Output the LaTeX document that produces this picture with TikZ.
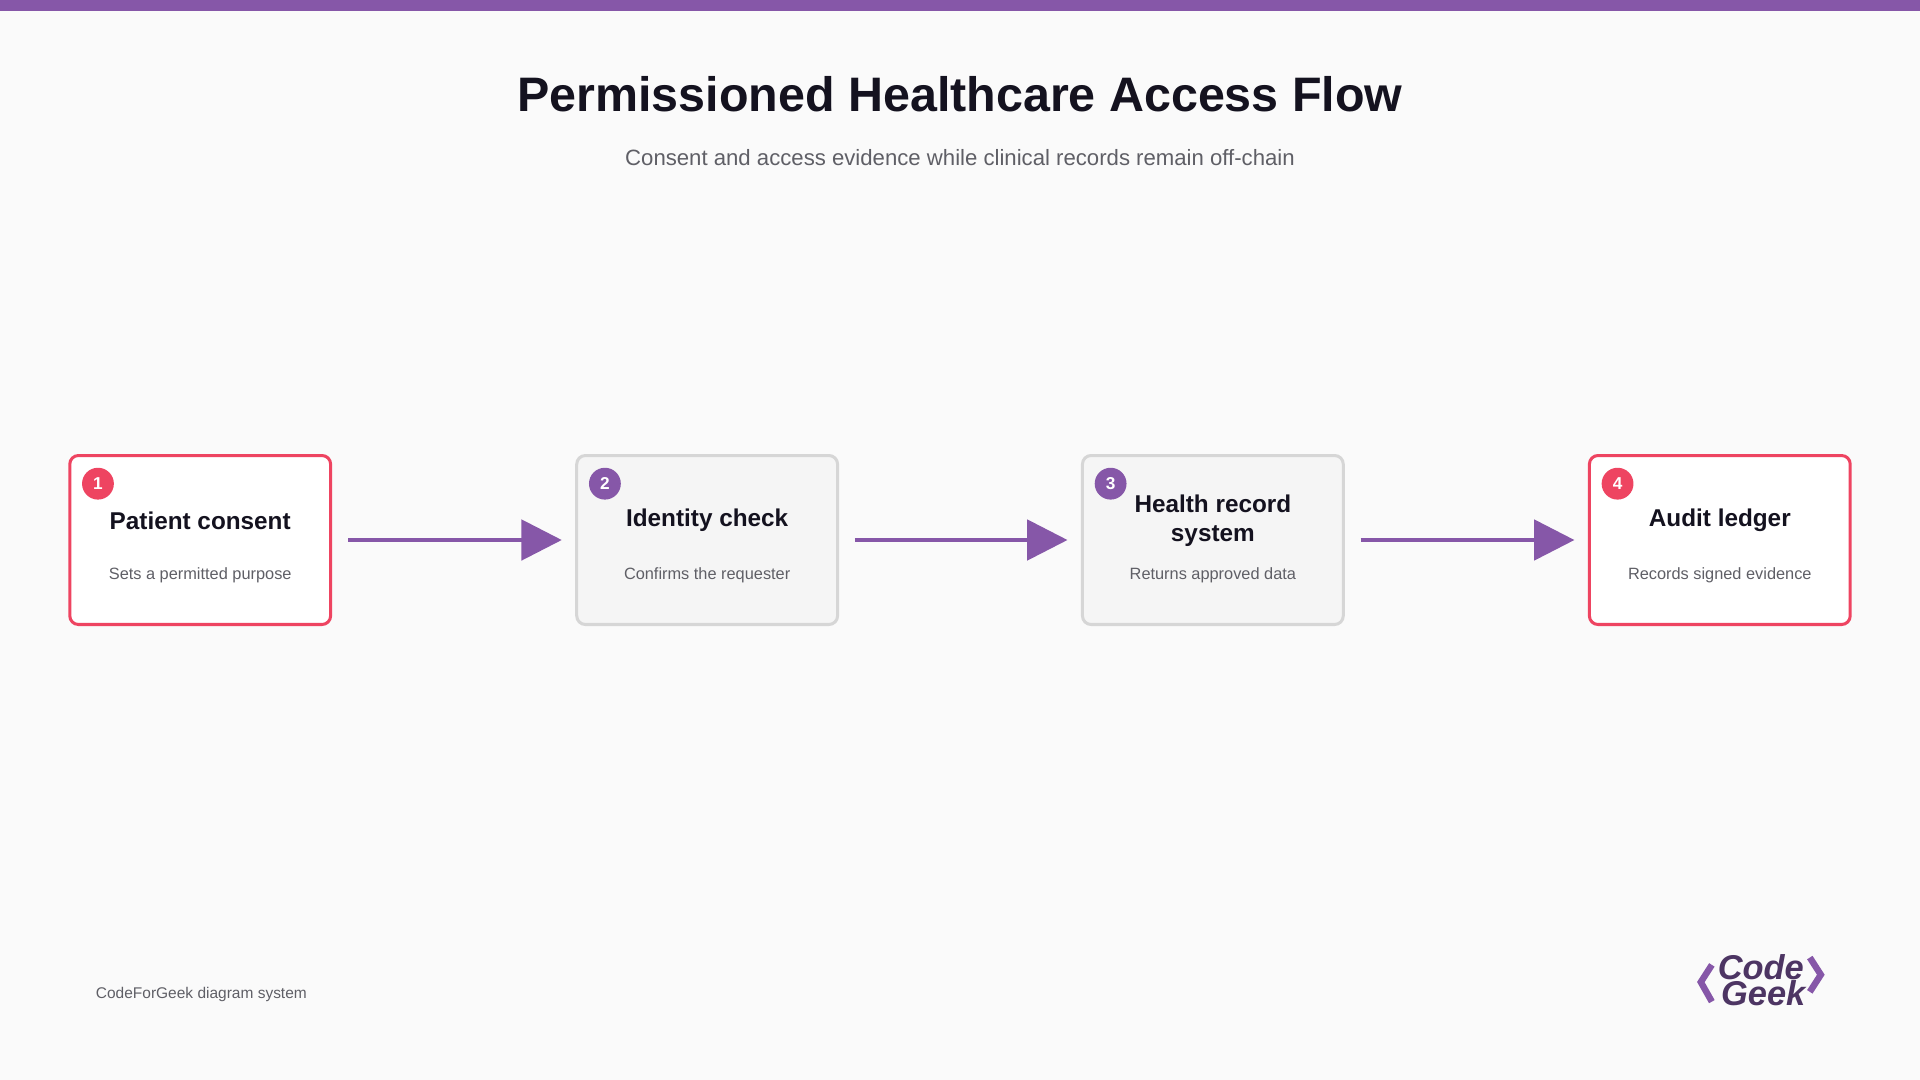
\documentclass[tikz,border=0pt]{standalone}
\usepackage{fontspec}
\setmainfont{Liberation Sans}
\usetikzlibrary{arrows.meta}
\definecolor{pur}{HTML}{8657A8}
\definecolor{red1}{HTML}{EE4461}
\definecolor{ink}{HTML}{14121F}
\definecolor{gry}{HTML}{5F5F66}
\begin{document}
\begin{tikzpicture}[x=0.02cm,y=-0.02cm,
 box/.style={draw=red1,fill=white,line width=1.4pt,rounded corners=4pt,minimum width=213*0.02cm,minimum height=138*0.02cm},
 gbox/.style={box,draw=black!16,fill=black!4},
 num/.style={circle,minimum size=26*0.02cm,inner sep=0,text=white,font=\bfseries\fontsize{8}{9}\selectfont},
 ttl/.style={font=\bfseries\fontsize{11.3}{13.5}\selectfont,text=ink,align=center},
 sub/.style={font=\fontsize{7.6}{9}\selectfont,text=gry},
 lgo/.style={font=\bfseries\itshape\fontsize{16}{13}\selectfont,text=pur!50!ink,inner sep=0},
 arr/.style={draw=pur,line width=1.8pt,-{Triangle[length=33*0.02cm,width=33*0.02cm]}}]
\fill[black!2] (0,0) rectangle (1568,882);
\fill[pur] (0,0) rectangle (1568,9);
\node[font=\bfseries\fontsize{22.5}{28}\selectfont,text=ink] (t) at (784,77) {Permissioned Healthcare Access Flow};
\node[font=\fontsize{10.3}{12}\selectfont,text=gry] (s) at (784,129) {Consent and access evidence while clinical records remain off-chain};
\node[box] (b1) at (163.5,441) {};
\node[gbox] (b2) at (577.5,441) {};
\node[gbox] (b3) at (990.5,441) {};
\node[box] (b4) at (1404.5,441) {};
\node[num,fill=red1] (n1) at (80,395) {1};
\node[num,fill=pur] (n2) at (494,395) {2};
\node[num,fill=pur] (n3) at (907,395) {3};
\node[num,fill=red1] (n4) at (1321,395) {4};
\node[ttl] (t1) at (163.5,425) {Patient consent};
\node[ttl] (t2) at (577.5,425) {Identity check};
\node[ttl] (t3) at (990.5,425) {Health record\\system};
\node[ttl] (t4) at (1404.5,425) {Audit ledger};
\node[sub] (s1) at (163.5,470) {Sets a permitted purpose};
\node[sub] (s2) at (577.5,470) {Confirms the requester};
\node[sub] (s3) at (990.5,470) {Returns approved data};
\node[sub] (s4) at (1404.5,470) {Records signed evidence};
\draw[arr] ([xshift=13*0.02cm]b1.east) -- ([xshift=-11*0.02cm]b2.west);
\draw[arr] ([xshift=13*0.02cm]b2.east) -- ([xshift=-11*0.02cm]b3.west);
\draw[arr] ([xshift=13*0.02cm]b3.east) -- ([xshift=-11*0.02cm]b4.west);
\node[font=\fontsize{7.2}{9}\selectfont,text=gry,anchor=west,inner sep=0] (f) at (78,812) {CodeForGeek diagram system};
\node[lgo] (l1) at (1438,790) {Code};
\node[lgo] (l2) at (1440,811) {Geek};
\draw[pur,line width=3pt] (1398,788) -- (1389,802) -- (1398,818);
\draw[pur,line width=3pt] (1478,782) -- (1487,796) -- (1478,810);
\end{tikzpicture}
\end{document}
